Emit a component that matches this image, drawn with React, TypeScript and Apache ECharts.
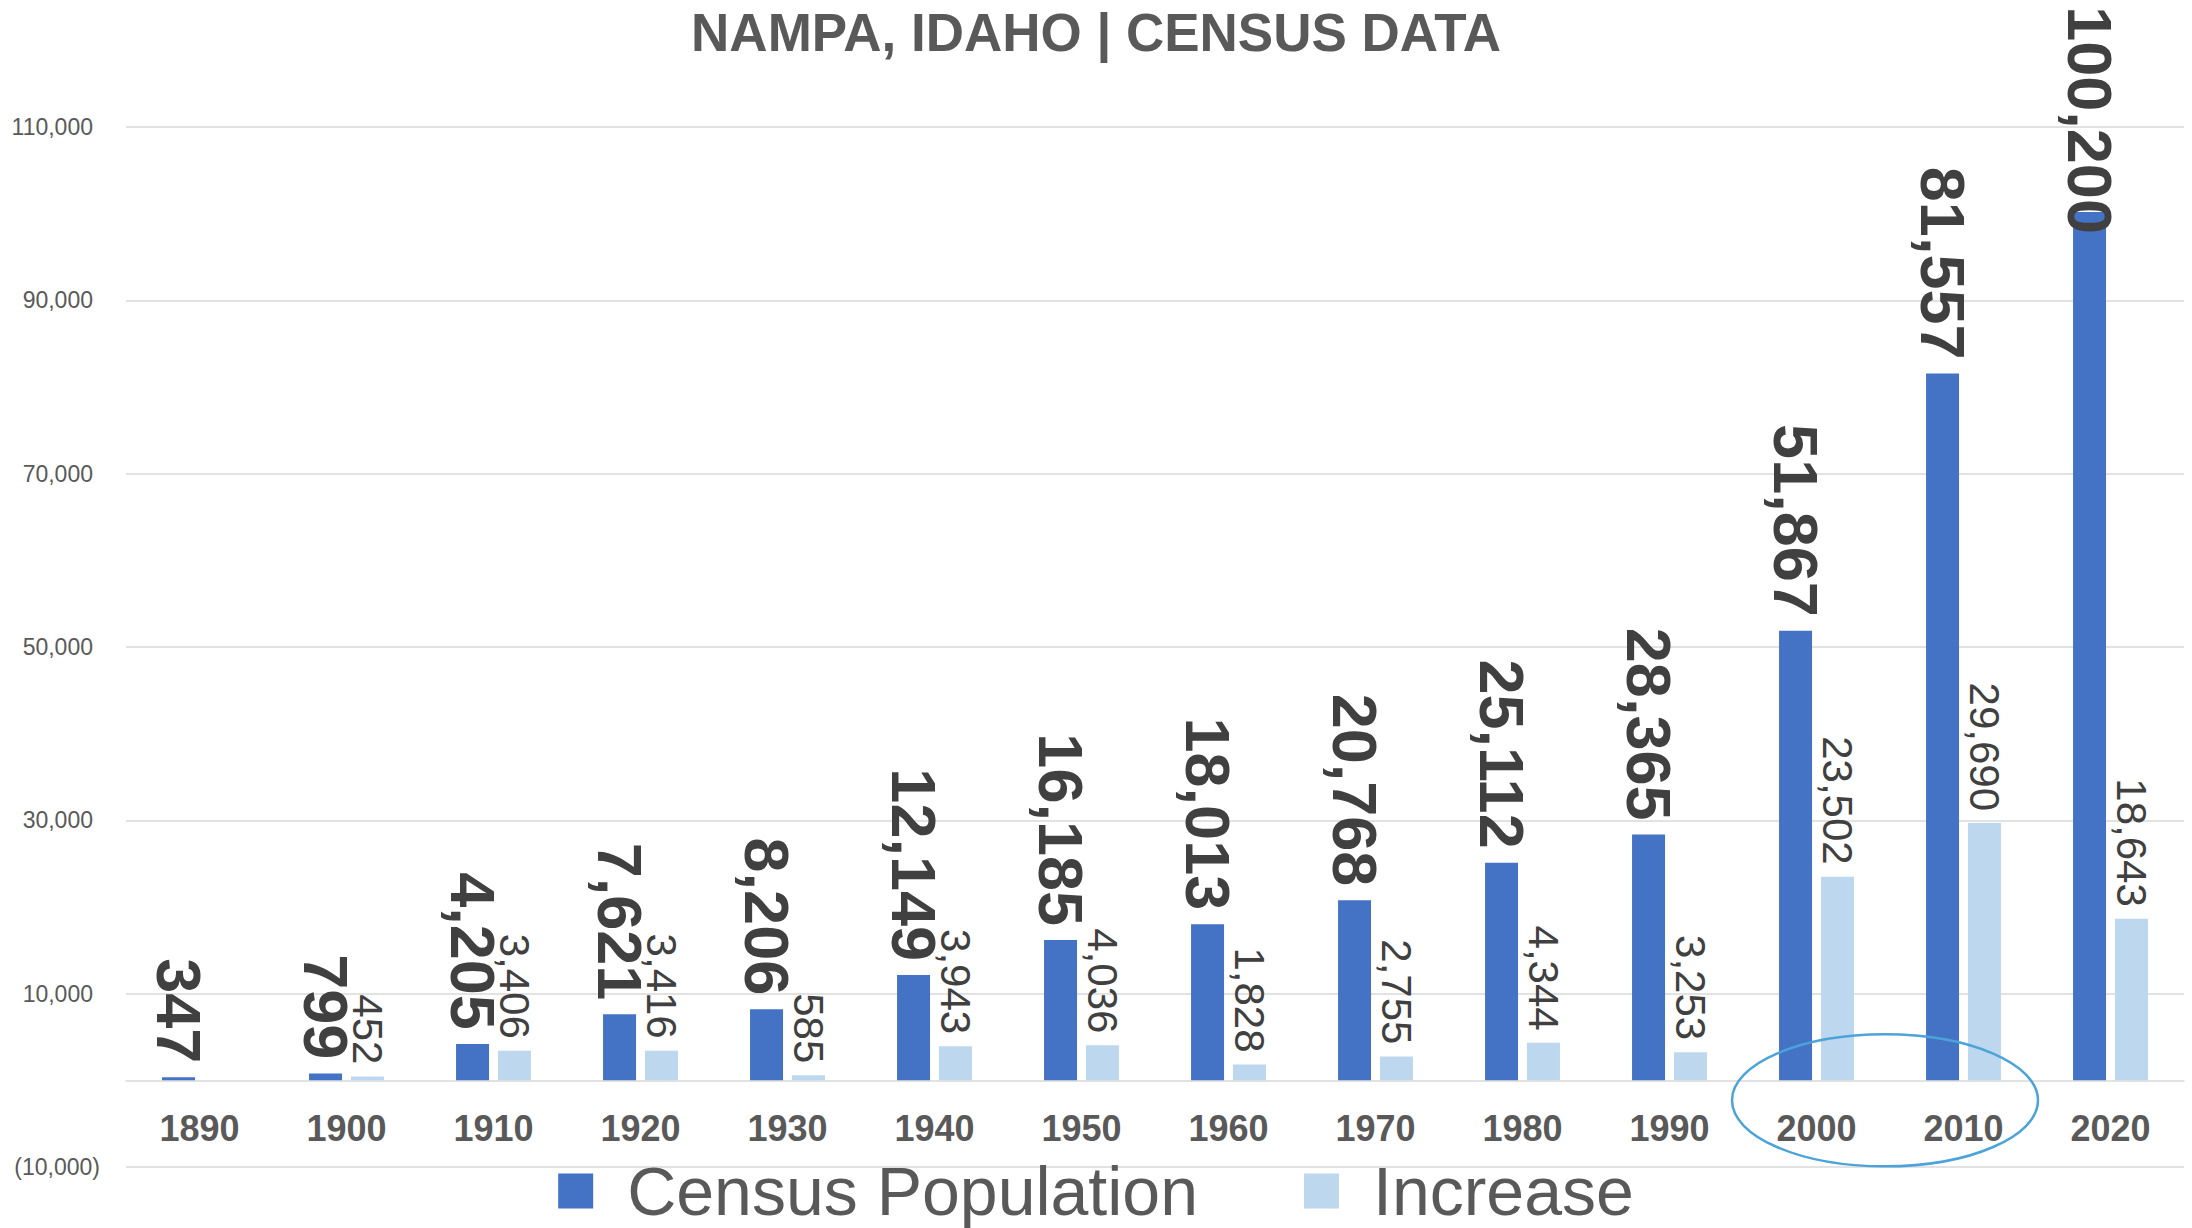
import React, { useEffect, useRef } from 'react';
import * as echarts from 'echarts';

const years = ['1890', '1900', '1910', '1920', '1930', '1940', '1950', '1960', '1970', '1980', '1990', '2000', '2010', '2020'];
const population = [347, 799, 4205, 7621, 8206, 12149, 16185, 18013, 20768, 25112, 28365, 51867, 81557, 100200];
const increase = [null, 452, 3406, 3416, 585, 3943, 4036, 1828, 2755, 4344, 3253, 23502, 29690, 18643];
const yMin = -10000;
const yMax = 110000;
const yStep = 20000;
const highlighted = ['2000', '2010'];

const FONT = 'Liberation Sans, Arial, sans-serif';
const fmt = (v: number) => v.toLocaleString('en-US');

export default function App() {
  const ref = useRef<HTMLDivElement>(null);
  useEffect(() => {
    document.body.style.margin = '0';
    const chart = echarts.init(ref.current!, null, { renderer: 'svg' });
    const lastIdx = population.length - 1;
    chart.setOption({
      animation: false,
      backgroundColor: '#ffffff',
      title: {
        text: 'NAMPA, IDAHO | CENSUS DATA',
        left: 'center',
        top: 1,
        textStyle: { fontFamily: FONT, fontSize: 53, fontWeight: 'bold', color: '#595959' },
      },
      legend: {
        left: 'center',
        top: 1152,
        icon: 'rect',
        itemWidth: 35,
        itemHeight: 35,
        itemGap: 106,
        textStyle: { fontFamily: FONT, fontSize: 68, lineHeight: 58, color: '#595959', padding: [0, 0, 0, 29] },
        data: ['Census Population', 'Increase'],
      },
      grid: { left: 126, right: 8, top: 127, bottom: 61, containLabel: false },
      xAxis: {
        type: 'category',
        data: years,
        axisLine: { show: true, onZero: true, lineStyle: { color: '#D9D9D9', width: 1.5 } },
        axisTick: { show: false },
        axisLabel: { fontFamily: FONT, fontSize: 36, fontWeight: 'bold', color: '#595959', margin: -57 },
      },
      yAxis: {
        type: 'value',
        min: yMin,
        max: yMax,
        interval: yStep,
        axisLine: { show: false },
        axisTick: { show: false },
        splitLine: { show: true, lineStyle: { color: '#D9D9D9', width: 1.5 } },
        axisLabel: {
          fontFamily: FONT,
          fontSize: 23,
          color: '#595959',
          margin: 26,
          // positive values keep a trailing space as wide as ")" so digits line up
          formatter: (v: number) => (v < 0 ? `(${fmt(-v)})` : `${fmt(v)}{p|}`),
          rich: { p: { width: 7 } },
        },
      },
      series: [
        {
          name: 'Census Population',
          type: 'bar',
          barWidth: 33,
          barGap: '27%',
          itemStyle: { color: '#4472C4' },
          // the tallest bar's label is pushed down so it stays inside the chart
          data: population.map((v, i) => (i === lastIdx ? { value: v, label: { distance: -22 } } : v)),
          label: {
            show: true,
            position: 'top',
            rotate: -90,
            align: 'right',
            verticalAlign: 'middle',
            distance: 14,
            fontFamily: FONT,
            fontSize: 63,
            fontWeight: 'bold',
            color: '#404040',
            formatter: (p: any) => fmt(p.value),
          },
        },
        {
          name: 'Increase',
          type: 'bar',
          barWidth: 33,
          itemStyle: { color: '#BDD7EE' },
          data: increase,
          label: {
            show: true,
            position: 'top',
            rotate: -90,
            align: 'right',
            verticalAlign: 'middle',
            distance: 12,
            fontFamily: FONT,
            fontSize: 42,
            color: '#404040',
            formatter: (p: any) => (p.value == null ? '' : fmt(p.value)),
          },
        },
      ],
    });
    const xa = chart.convertToPixel({ xAxisIndex: 0 }, highlighted[0]) as number;
    const xb = chart.convertToPixel({ xAxisIndex: 0 }, highlighted[1]) as number;
    const y0 = chart.convertToPixel({ yAxisIndex: 0 }, 0) as number;
    chart.setOption({
      graphic: [
        {
          type: 'ellipse',
          z: 100,
          shape: { cx: (xa + xb) / 2 - 5, cy: y0 + 20, rx: 153, ry: 66 },
          style: { fill: 'none', stroke: '#4BA3DA', lineWidth: 2.5 },
        },
      ],
    });
    return () => chart.dispose();
  }, []);
  return (
    <div
      ref={ref}
      style={{ position: 'fixed', left: 0, top: 0, width: 2192, height: 1228, background: '#fff' }}
    />
  );
}
